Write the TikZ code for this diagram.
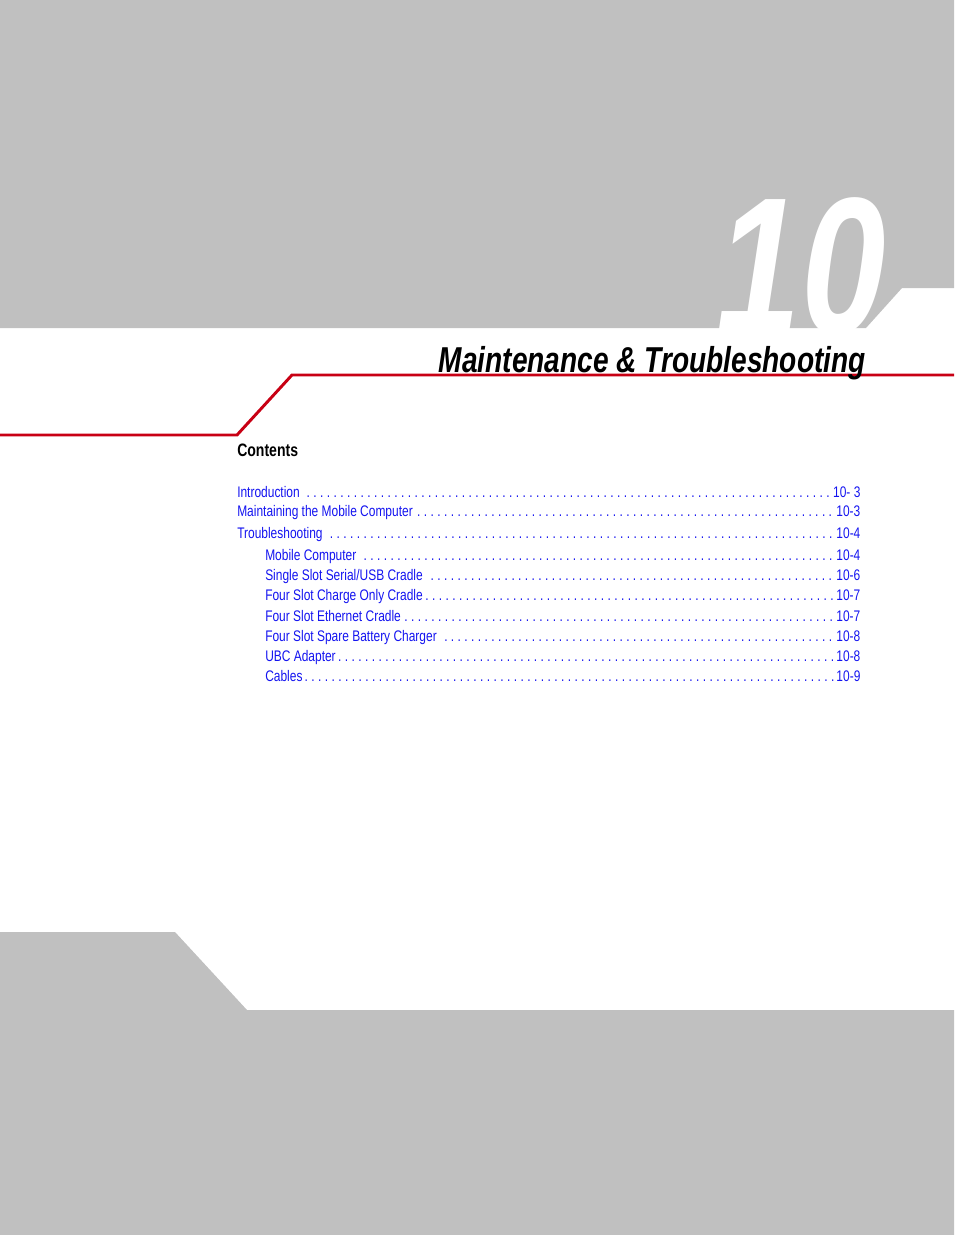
\documentclass[tikz,border=0pt]{standalone}
\usepackage{fontspec}
\setmainfont{Liberation Sans}
\newfontfamily\condfont[FakeStretch=0.78]{Liberation Sans}
\definecolor{pagegray}{RGB}{192,192,192}
\definecolor{rulered}{RGB}{200,0,20}
\definecolor{tocblue}{RGB}{20,20,240}
\tikzset{
  tocentry/.style={anchor=base west, inner sep=0pt, text=tocblue, font=\condfont\fontsize{11.5}{13}\selectfont},
}
\begin{document}
\begin{tikzpicture}[x=0.75pt, y=-0.75pt]
\useasboundingbox (0,0) rectangle (954,1235);
% gray bands
\fill[pagegray] (0,0) -- (954,0) -- (954,288) -- (902,288) -- (866,328) -- (0,328) -- cycle;
\fill[pagegray] (0,932) -- (175,932) -- (247,1010) -- (954,1010) -- (954,1235) -- (0,1235) -- cycle;
% chapter number
\begin{scope}
\clip (0,0) rectangle (954,328);
\node[anchor=base east, inner sep=0pt, text=white, font=\condfont\bfseries\itshape\fontsize{146}{146}\selectfont] (chapnum) at (886,333) {10};
\end{scope}
% red rule
\draw[rulered, line width=2.2pt] (0,435) -- (237,435) -- (292,375) -- (954,375);
% title
\node[anchor=base east, inner sep=0pt, font=\condfont\bfseries\itshape\fontsize{27}{30}\selectfont] (title) at (866,372) {Maintenance \& Troubleshooting};
\node[anchor=base west, inner sep=0pt, font=\condfont\bfseries\fontsize{13.5}{15}\selectfont] (contents) at (237,456) {Contents};
% table of contents
\foreach \xx/\yy/\txt/\pg [count=\i, evaluate=\xx as \ww using (860-\xx)*0.75] in {
  237/497/Introduction /10- 3,
  237/516/Maintaining the Mobile Computer/10-3,
  237/538/Troubleshooting /10-4,
  265/560/Mobile Computer /10-4,
  265/580/{Single Slot Serial/USB Cradle }/10-6,
  265/600/Four Slot Charge Only Cradle/10-7,
  265/621/Four Slot Ethernet Cradle/10-7,
  265/641/Four Slot Spare Battery Charger /10-8,
  265/661/UBC Adapter/10-8,
  265/681/Cables/10-9}
  \node[tocentry] (toc\i) at (\xx,\yy) {\makebox[\ww pt][s]{\txt\dotfill\pg}};
\end{tikzpicture}
\end{document}
